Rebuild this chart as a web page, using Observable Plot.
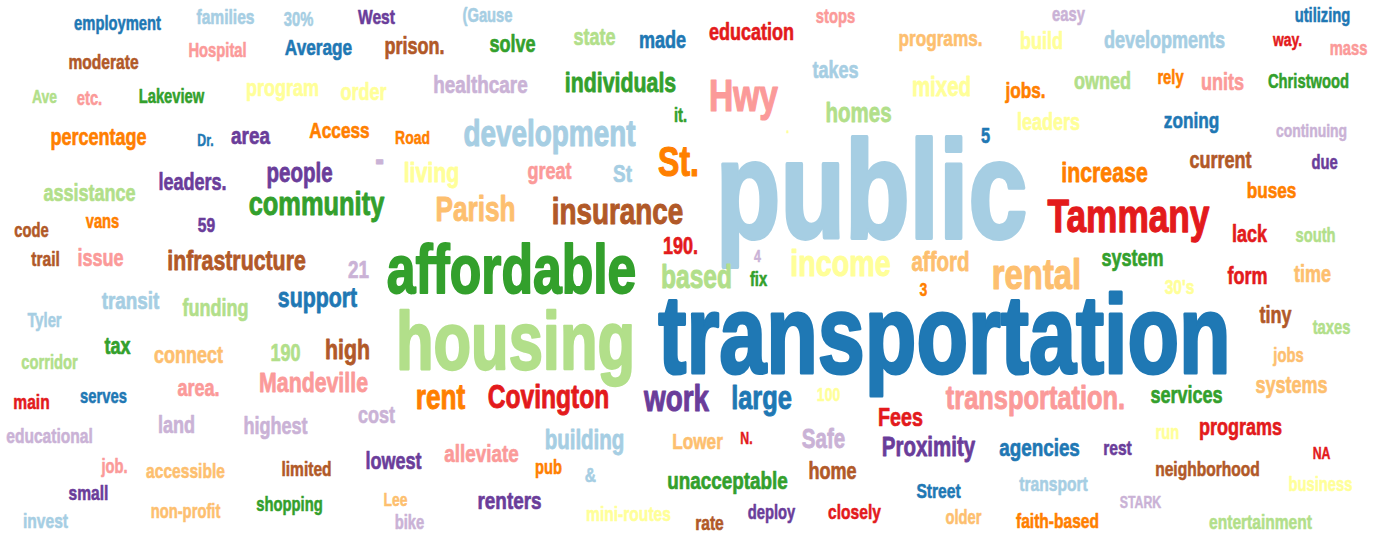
<!DOCTYPE html>
<html>
<head>
<meta charset="utf-8">
<script src="https://cdn.jsdelivr.net/npm/d3@7"></script>
<script src="https://cdn.jsdelivr.net/npm/@observablehq/plot@0.6"></script>
<style>
  html, body { margin: 0; padding: 0; background: #ffffff; }
  #chart svg { display: block; }
</style>
</head>
<body>
<div id="chart"></div>
<script>
// Word cloud: words, their weights (font size), colour group, and the cloud layout
const words = ["employment","families","30%","West","(Gause","stops","easy","utilizing",
  "Hospital","Average","prison.","solve","state","made","education","programs.","build","developments","way.","mass",
  "moderate","Ave","etc.","Lakeview","program","order","healthcare","individuals","Hwy","takes","mixed","jobs.","owned","rely","units","Christwood",
  "it.","homes",".","leaders","5","zoning","continuing",
  "percentage","Dr.","area","Access","Road","development","-","St.","current","due",
  "assistance","leaders.","people","living","great","St","increase","public",
  "community","Parish","insurance","Tammany","buses","vans","code","59","lack","south",
  "190.","4","trail","issue","infrastructure","affordable","income","afford","rental","system","form","time","21",
  "based","fix","3","30's","transit","funding","support","housing","transportation","Tyler","tiny","taxes",
  "tax","connect","190","high","corridor","jobs",
  "area.","Mandeville","rent","Covington","work","large","100","transportation.","services","systems","main","serves",
  "Fees","cost","land","highest","educational","alleviate","building","Lower","N.","Safe","Proximity","agencies","rest","programs","run","NA",
  "lowest","job.","accessible","limited","pub","&","home","neighborhood","unacceptable",
  "small","Lee","renters","Street","transport","STARK","business",
  "invest","non-profit","shopping","bike","mini-routes","rate","deploy","closely","older","faith-based","entertainment"];

const weights = [18,19,18,19,18,18,18,18,
  18,21,22,22,22,22,22,21,22,22,17,18,
  19,17,18,18,22,22,23,26,41,22,25,21,22,18,22,18,
  18,25,14,22,20,21,17,
  22,15,23,21,17,34,32,39,22,18,
  22,22,25,26,22,23,26,129,
  31,32,34,43,21,18,18,19,22,18,
  22,15,19,22,26,63,35,25,40,22,22,22,23,
  30,18,17,19,23,22,26,75,103,18,22,18,
  22,22,22,26,18,18,
  22,26,32,30,34,31,17,31,22,22,19,18,
  24,22,22,22,19,23,25,21,15,25,25,23,19,22,18,15,
  22,18,19,19,18,19,22,19,23,
  19,17,23,19,19,15,18,
  19,18,18,18,19,19,18,19,18,19,19];

// colour group (index into the Paired scheme)
const groups = [1,0,0,9,0,4,8,1,
  4,1,11,3,2,1,5,6,10,0,5,4,
  11,2,4,3,10,10,8,3,4,0,10,7,2,7,4,3,
  3,2,10,10,1,1,8,
  7,1,9,7,7,0,8,7,11,9,
  2,9,9,10,4,0,7,0,
  3,6,11,5,7,7,11,9,5,2,
  5,8,11,4,11,3,10,6,6,3,5,6,8,
  2,3,7,10,0,2,1,2,1,0,11,2,
  3,6,2,11,2,6,
  4,4,7,5,9,1,10,4,3,6,5,1,
  5,8,8,8,8,4,0,6,5,8,9,1,9,5,10,5,
  9,4,6,11,7,0,11,11,3,
  9,6,9,1,0,8,10,
  0,6,3,8,10,11,9,5,6,7,2];

// layout of the cloud (word centre, baseline) in picture units
const cx = [117,225,298,376,487,835,1068,1322,
  217,318,414,512,594,662,751,940,1041,1164,1287,1348,
  103,44,89,171,282,363,480,620,743,835,941,1025,1102,1170,1222,1308,
  680,858,787,1048,985,1191,1311,
  98,205,250,339,412,549,379,678,1220,1324,
  89,192,299,431,549,622,1104,871,
  316,475,617,1128,1271,102,31,206,1249,1315,
  680,757,45,100,236,511,840,940,1036,1132,1247,1312,358,
  696,758,923,1179,130,215,317,515,944,44,1275,1331,
  117,188,285,347,49,1288,
  198,313,440,548,676,761,828,1035,1186,1291,31,103,
  900,376,176,275,49,481,584,697,746,823,928,1039,1117,1240,1167,1321,
  393,114,185,306,548,590,832,1207,727,
  88,395,509,938,1053,1140,1320,
  45,185,289,409,628,709,771,854,963,1057,1260];

const cy = [29,23,25,23,21,22,20,21,
  56,54,53,51,44,47,39,45,48,47,45,54,
  68,102,104,102,95,99,92,91,110,77,95,97,88,83,89,87,
  121,121,132,129,142,127,136,
  144,145,143,137,143,145,170,175,167,168,
  200,189,181,181,178,181,181,237,
  214,220,223,231,197,227,236,231,241,241,
  253,261,265,265,269,292,275,270,288,265,283,281,277,
  287,285,295,293,308,315,306,368,372,326,322,333,
  353,362,360,358,368,361,
  395,391,408,407,410,408,400,408,402,392,408,402,
  425,422,432,433,442,461,448,448,443,447,455,455,454,434,438,458,
  468,472,477,475,473,481,478,475,488,
  499,505,508,497,490,507,490,
  527,517,510,528,520,529,518,518,523,527,528];

const data = words.map((w, i) => ({word: w, size: weights[i], group: groups[i], x: cx[i], y: cy[i]}));

const chart = Plot.plot({
  width: 1380,
  height: 533,
  margin: 0,
  x: {domain: [0, 1380], range: [0, 1380], axis: null},
  y: {domain: [0, 533], range: [0, 533], axis: null},
  color: {type: "ordinal", domain: d3.range(12), range: d3.schemePaired},
  style: {background: "#ffffff", overflow: "hidden"},
  marks: [
    Plot.text(data, {
      x: "x",
      y: "y",
      text: "word",
      fill: "group",
      stroke: "group",
      strokeWidth: (d) => Math.max(0.4, d.size * 0.028),
      strokeLinejoin: "round",
      fontSize: "size",
      textAnchor: "middle",
      lineAnchor: "bottom",
      fontFamily: "'Liberation Sans', Arial, sans-serif",
      fontWeight: "bold"
    })
  ]
});

// condensed, tall letterforms (the cloud uses a narrow heavy face)
d3.select(chart).selectAll("text").each(function () {
  const t = this.getAttribute("transform");
  if (t) {
    this.setAttribute("transform", t + " scale(0.82,1.08)");
  } else {
    const x = +this.getAttribute("x") || 0, y = +this.getAttribute("y") || 0;
    this.removeAttribute("x"); this.removeAttribute("y");
    this.setAttribute("transform", `translate(${x},${y}) scale(0.82,1.08)`);
  }
});

document.getElementById("chart").appendChild(chart);
</script>
</body>
</html>
